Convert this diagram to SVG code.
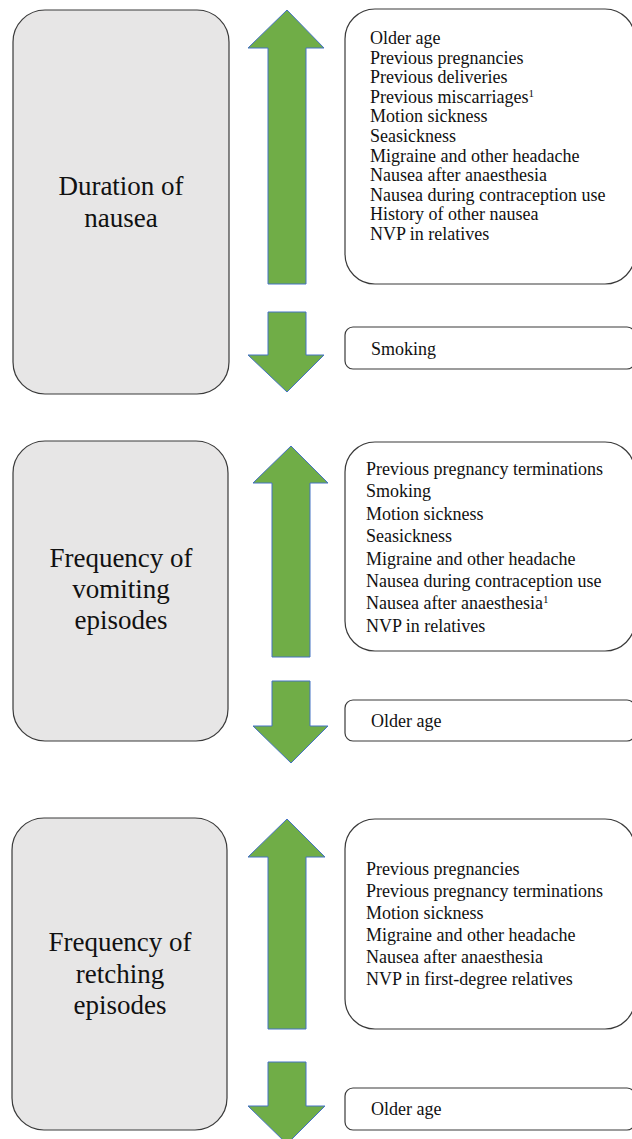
<svg xmlns="http://www.w3.org/2000/svg" width="632" height="1139" viewBox="0 0 632 1139">
<style>
.gbox{fill:#e7e6e6;stroke:#3a3a3a;stroke-width:1.2}
.wbox{fill:#ffffff;stroke:#3a3a3a;stroke-width:1.2}
.arrow{fill:#70ad47;stroke:#4472c4;stroke-width:1}
.lbl{font-family:"Liberation Serif","Times New Roman",serif;font-size:27px;fill:#111;text-anchor:middle}
.lst{font-family:"Liberation Serif","Times New Roman",serif;font-size:18px;fill:#111}
.sup{font-size:11px}
</style>
<rect width="632" height="1139" fill="#ffffff"/>

<g id="arrows">
  <polygon class="arrow" points="287,10 324,48 306,48 306,284 268,284 268,48 248,48"/>
  <polygon class="arrow" points="268,312 306,312 306,355 324,355 287,392 248,355 268,355"/>
  <polygon class="arrow" points="291,446 328,483 310,483 310,657 272,657 272,483 253,483"/>
  <polygon class="arrow" points="272,681 310,681 310,726 328,726 291,763 253,726 272,726"/>
  <polygon class="arrow" points="287,819 325,857 306,857 306,1029 268,1029 268,857 248,857"/>
  <polygon class="arrow" points="268,1062 306,1062 306,1106 325,1106 287,1144 248,1106 268,1106"/>
</g>

<g id="duration-of-nausea">
  <rect class="gbox" x="13" y="10" width="216" height="384" rx="32" ry="32"/>
  <text class="lbl"><tspan x="121" y="195">Duration of</tspan><tspan x="121" y="227">nausea</tspan></text>
</g>
<g id="duration-increase">
  <rect class="wbox" x="345" y="9" width="290" height="275" rx="30" ry="30"/>
  <text class="lst">
    <tspan x="370" y="44">Older age</tspan>
    <tspan x="370" y="63.6">Previous pregnancies</tspan>
    <tspan x="370" y="83.2">Previous deliveries</tspan>
    <tspan x="370" y="102.8">Previous miscarriages<tspan class="sup" dy="-6">1</tspan></tspan>
    <tspan x="370" y="122.4">Motion sickness</tspan>
    <tspan x="370" y="142">Seasickness</tspan>
    <tspan x="370" y="161.6">Migraine and other headache</tspan>
    <tspan x="370" y="181.2">Nausea after anaesthesia</tspan>
    <tspan x="370" y="200.8">Nausea during contraception use</tspan>
    <tspan x="370" y="220.4">History of other nausea</tspan>
    <tspan x="370" y="240">NVP in relatives</tspan>
  </text>
</g>
<g id="duration-decrease">
  <rect class="wbox" x="345" y="327" width="290" height="42" rx="8" ry="8"/>
  <text class="lst" x="371" y="355">Smoking</text>
</g>

<g id="frequency-of-vomiting">
  <rect class="gbox" x="13" y="441" width="215" height="300" rx="32" ry="32"/>
  <text class="lbl"><tspan x="121" y="567">Frequency of</tspan><tspan x="121" y="598">vomiting</tspan><tspan x="121" y="629">episodes</tspan></text>
</g>
<g id="vomiting-increase">
  <rect class="wbox" x="345" y="442" width="290" height="209" rx="30" ry="30"/>
  <text class="lst">
    <tspan x="366" y="475">Previous pregnancy terminations</tspan>
    <tspan x="366" y="497.4">Smoking</tspan>
    <tspan x="366" y="519.8">Motion sickness</tspan>
    <tspan x="366" y="542.2">Seasickness</tspan>
    <tspan x="366" y="564.6">Migraine and other headache</tspan>
    <tspan x="366" y="587">Nausea during contraception use</tspan>
    <tspan x="366" y="609.4">Nausea after anaesthesia<tspan class="sup" dy="-6">1</tspan></tspan>
    <tspan x="366" y="631.8">NVP in relatives</tspan>
  </text>
</g>
<g id="vomiting-decrease">
  <rect class="wbox" x="345" y="700" width="290" height="41" rx="8" ry="8"/>
  <text class="lst" x="371" y="727">Older age</text>
</g>

<g id="frequency-of-retching">
  <rect class="gbox" x="12" y="818" width="215" height="312" rx="32" ry="32"/>
  <text class="lbl"><tspan x="120" y="951">Frequency of</tspan><tspan x="120" y="983">retching</tspan><tspan x="120" y="1014">episodes</tspan></text>
</g>
<g id="retching-increase">
  <rect class="wbox" x="345" y="819" width="290" height="210" rx="30" ry="30"/>
  <text class="lst">
    <tspan x="366" y="875">Previous pregnancies</tspan>
    <tspan x="366" y="897">Previous pregnancy terminations</tspan>
    <tspan x="366" y="919">Motion sickness</tspan>
    <tspan x="366" y="941">Migraine and other headache</tspan>
    <tspan x="366" y="963">Nausea after anaesthesia</tspan>
    <tspan x="366" y="985">NVP in first-degree relatives</tspan>
  </text>
</g>
<g id="retching-decrease">
  <rect class="wbox" x="345" y="1088" width="290" height="42" rx="8" ry="8"/>
  <text class="lst" x="371" y="1115">Older age</text>
</g>
</svg>
